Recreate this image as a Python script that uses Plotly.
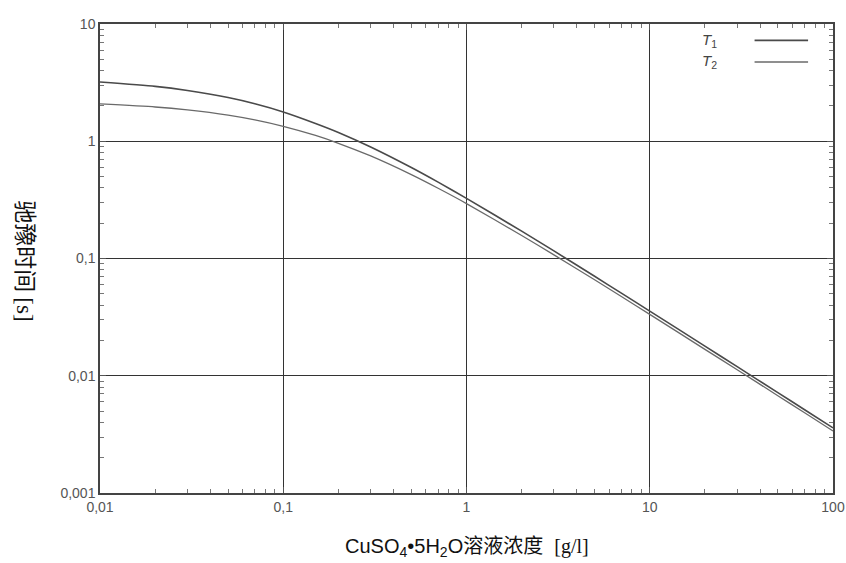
import plotly.graph_objects as go

# Concentration of CuSO4·5H2O [g/l]
conc = [0.01, 0.02, 0.03, 0.05, 0.07, 0.1, 0.15, 0.2, 0.3, 0.5, 0.7,
        1, 2, 3, 5, 7, 10, 20, 30, 50, 70, 100]
# Relaxation times [s]
t1 = [3.20, 2.94, 2.71, 2.36, 2.09, 1.78, 1.42, 1.19, 0.894, 0.597, 0.448,
      0.326, 0.171, 0.116, 0.0705, 0.0506, 0.0356, 0.0179, 0.01195, 0.00718, 0.00513, 0.00359]
t2 = [2.08, 1.96, 1.85, 1.67, 1.52, 1.34, 1.12, 0.961, 0.749, 0.519, 0.397,
      0.294, 0.157, 0.1075, 0.0658, 0.0474, 0.0334, 0.0168, 0.01124, 0.00676, 0.00483, 0.00338]

x_tickvals = [0.01, 0.1, 1, 10, 100]
x_ticktext = ["0,01", "0,1", "1", "10", "100"]
y_tickvals = [0.001, 0.01, 0.1, 1, 10]
y_ticktext = ["0,001", "0,01", "0,1", "1", "10"]

series_names = ["<i>T</i><sub>1</sub>", "<i>T</i><sub>2</sub>"]
series_colors = ["#4a4a4a", "#6a6a6a"]
series_widths = [1.6, 1.3]

fig = go.Figure()
for ys, name, col, w in zip([t1, t2], series_names, series_colors, series_widths):
    fig.add_trace(go.Scatter(x=conc, y=ys, mode="lines", name=name,
                             line=dict(color=col, width=w, shape="spline", smoothing=0.6),
                             showlegend=False))

axis_common = dict(
    type="log", automargin=False,
    showline=True, linecolor="#444", linewidth=1.5, mirror="ticks",
    showgrid=True, gridcolor="#333", gridwidth=1.4,
    ticks="inside", ticklen=6, tickcolor="#555",
    minor=dict(ticks="inside", ticklen=4, tickcolor="#777", dtick="D1", showgrid=False),
    zeroline=False,
    tickfont=dict(family="Liberation Sans, Arial, sans-serif", size=14, color="#555"),
)

fig.update_xaxes(range=[-2, 2], tickvals=x_tickvals, ticktext=x_ticktext, **axis_common)
fig.update_yaxes(range=[-3, 1], tickvals=y_tickvals, ticktext=y_ticktext, **axis_common)

# legend (text left of line sample, as in the reference)
leg_y = [0.965, 0.919]
for name, col, w, yy in zip(series_names, series_colors, series_widths, leg_y):
    fig.add_annotation(xref="paper", yref="paper", x=0.845, y=yy, text=name,
                       showarrow=False, xanchor="right", yanchor="middle",
                       font=dict(family="Liberation Sans, Arial, sans-serif", size=15, color="#444"))
    fig.add_shape(type="line", xref="paper", yref="paper", x0=0.893, x1=0.966, y0=yy, y1=yy,
                  line=dict(color=col, width=w))

# y axis title, reading top to bottom
fig.add_annotation(xref="paper", yref="paper", x=-0.1, y=0.495, textangle=90,
                   text='驰豫时间 <span style="font-family:Liberation Serif, Times New Roman, serif">[s]</span>',
                   showarrow=False, xanchor="center", yanchor="middle",
                   font=dict(family="Noto Sans CJK SC, sans-serif", size=23, color="#111"))

# x axis title
fig.add_annotation(xref="paper", yref="paper", x=0.5, y=-0.117,
                   text='CuSO<sub>4</sub>•5H<sub>2</sub>O溶液浓度  <span style="font-family:Liberation Serif, Times New Roman, serif">[g/l]</span>',
                   showarrow=False, xanchor="center", yanchor="middle",
                   font=dict(family="Liberation Sans, Noto Sans CJK SC, sans-serif", size=20, color="#111"))

fig.update_layout(
    width=846, height=563,
    margin=dict(l=100, r=13, t=24, b=70, autoexpand=False),
    paper_bgcolor="white", plot_bgcolor="white",
    showlegend=False,
)

fig.write_html("out.html", config={"displayModeBar": False},
               post_script="document.body.style.margin='0';document.body.style.overflow='hidden';")
